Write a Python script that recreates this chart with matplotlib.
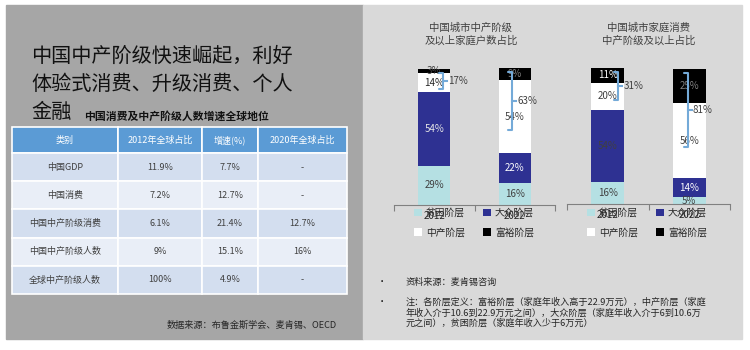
import numpy as np
import matplotlib.pyplot as plt
from matplotlib.patches import Rectangle

plt.rcParams['font.family'] = ['Noto Sans CJK SC', 'DejaVu Sans']

## table data
tbl_header = ['类别', '2012年全球占比', '增速(%)', '2020年全球占比']
tbl_category = ['中国GDP', '中国消费', '中国中产阶级消费', '中国中产阶级人数', '全球中产阶级人数']
tbl_share_2012 = ['11.9%', '7.2%', '6.1%', '9%', '100%']
tbl_growth = ['7.7%', '12.7%', '21.4%', '15.1%', '4.9%']
tbl_share_2020 = ['-', '-', '12.7%', '16%', '-']

## stacked bar data
years = ['2012', '2022']
layers = ['贫困阶层', '大众阶层', '中产阶层', '富裕阶层']
hh_poor = [29, 16]
hh_mass = [54, 22]
hh_middle = [14, 54]
hh_rich = [3, 9]
cons_poor = [16, 5]
cons_mass = [54, 14]
cons_middle = [20, 56]
cons_rich = [11, 25]

title_lines = ['中国中产阶级快速崛起，利好', '体验式消费、升级消费、个人', '金融']
subtitle = '中国消费及中产阶级人数增速全球地位'
source_left = '数据来源：布鲁金斯学会、麦肯锡、OECD'
note_source = '资料来源：麦肯锡咨询'
note_lines = ['注：各阶层定义：富裕阶层（家庭年收入高于22.9万元），中产阶层（家庭',
              '年收入介于10.6到22.9万元之间），大众阶层（家庭年收入介于6到10.6万',
              '元之间），贫困阶层（家庭年收入少于6万元）']

c_poor = '#b5e0e3'
c_mass = '#2e3192'
c_brace = '#74aad8'
W, H = 750, 350

fig = plt.figure(figsize=(7.5, 3.5), dpi=100)
bg = fig.add_axes([0, 0, 1, 1])
bg.set_xlim(0, W)
bg.set_ylim(H, 0)
bg.axis('off')
bg.add_patch(Rectangle((6, 5), 357, 334, color='#a6a6a6', zorder=0))
bg.add_patch(Rectangle((363, 5), 379, 334, color='#d9d9d9', zorder=0))


def px_axes(x0, y0, x1, y1):
  # axes from pixel box (top-left origin)
  return fig.add_axes([x0 / W, 1 - y1 / H, (x1 - x0) / W, (y1 - y0) / H])


## left panel text
for i, line in enumerate(title_lines):
  bg.text(31, 56 + 28 * i, line, fontsize=14.5, va='center', ha='left', color='#111111')
bg.text(84, 116, subtitle, fontsize=7.8, fontweight='bold', va='center', ha='left', color='#111111')
bg.text(337, 325, source_left, fontsize=6.6, va='center', ha='right', color='#262626')

## table
ax_t = px_axes(12, 127, 347, 294)
ax_t.axis('off')
rows = [list(r) for r in zip(tbl_category, tbl_share_2012, tbl_growth, tbl_share_2020)]
col_w = np.array([106, 84, 56, 89]) / 335.0
tab = ax_t.table(cellText=rows, colLabels=tbl_header, cellLoc='center',
                 colWidths=list(col_w), bbox=[0, 0, 1, 1])
tab.auto_set_font_size(False)
tab.set_fontsize(6.5)
for (r, c), cell in tab.get_celld().items():
  cell.set_edgecolor('white')
  cell.set_linewidth(1.2)
  if r == 0:
    cell.set_height(26)
    cell.set_facecolor('#5b9bd5')
    cell.get_text().set_color('white')
  else:
    cell.set_height(28)
    cell.set_facecolor('#d3deef' if r % 2 == 1 else '#e9eef7')
    cell.get_text().set_color('#404040')


def stacked(box, title_x, title, segs, label_colors, brace_dx):
  ax = px_axes(*box)
  ax.set_xlim(-0.5, 1.5)
  ax.set_ylim(0, 100)
  ax.patch.set_alpha(0)
  x = np.arange(len(years))
  bottom = np.zeros(len(years))
  colors = [c_poor, c_mass, 'white', 'black']
  handles = []
  for k, vals in enumerate(segs):
    vals = np.array(vals)
    b = ax.bar(x, vals, 0.4, bottom=bottom, color=colors[k], label=layers[k],
               clip_on=False, zorder=2)
    handles.append(b)
    for i, v in enumerate(vals):
      ax.text(x[i], bottom[i] + v / 2.0, '%d%%' % v, ha='center', va='center',
              fontsize=7, color=label_colors[k][i], zorder=3)
    bottom = bottom + vals
  # braces over middle + rich
  lo_all = np.array(segs[0]) + np.array(segs[1])
  for i in range(len(years)):
    span = bottom[i] - lo_all[i]
    top = bottom[i] - 3
    bot = top - 0.68 * span
    mid = (top + bot) / 2.0
    xc = x[i] + brace_dx[i]
    arm = 0.05
    ax.plot([xc - arm, xc, xc, xc - arm], [top, top, bot, bot], color=c_brace,
            lw=1.5, clip_on=False, zorder=4, solid_capstyle='round')
    ax.plot([xc, xc + arm], [mid, mid], color=c_brace, lw=1.5, clip_on=False, zorder=4)
    ax.text(xc + arm + 0.01, mid, '%d%%' % (segs[2][i] + segs[3][i]), ha='left', va='center',
            fontsize=7, color='#404040', zorder=5)
  for s in ['top', 'left', 'right']:
    ax.spines[s].set_visible(False)
  ax.spines['bottom'].set_color('#808080')
  ax.spines['bottom'].set_linewidth(0.8)
  ax.set_yticks([])
  ax.set_xticks([-0.5, 0.5, 1.5])
  ax.set_xticklabels(['', '', ''])
  ax.tick_params(which='major', length=4, color='#808080', width=0.8)
  ax.set_xticks(x, minor=True)
  ax.set_xticklabels(years, minor=True)
  ax.tick_params(which='minor', length=0, pad=4, labelsize=7, labelcolor='#262626')
  bg.text(title_x, 34, title, ha='center', va='center', fontsize=7.5, linespacing=1.35,
          color='#404040')
  leg = ax.legend([handles[0], handles[2], handles[1], handles[3]],
                  [layers[0], layers[2], layers[1], layers[3]], ncol=2, loc='upper left',
                  bbox_to_anchor=(box[0] + 20, 208), bbox_transform=bg.transData,
                  frameon=False, fontsize=7, borderpad=0, borderaxespad=0,
                  handlelength=0.8, handleheight=0.8, handletextpad=0.4,
                  columnspacing=1.9, labelspacing=0.95)
  for t in leg.get_texts():
    t.set_color('#262626')
  return ax


stacked((394, 69, 555, 205), 471, '中国城市中产阶级\n及以上家庭户数占比',
        [hh_poor, hh_mass, hh_middle, hh_rich],
        [['#404040', '#404040'], ['#e6e6e6', 'white'], ['#262626', '#404040'], ['#404040', '#808080']],
        [0.11, -0.03])
stacked((567, 69, 730, 204), 649, '中国城市家庭消费\n中产阶级及以上占比',
        [cons_poor, cons_mass, cons_middle, cons_rich],
        [['#404040', '#404040'], ['#404040', 'white'], ['#404040', '#404040'], ['white', '#808080']],
        [0.13, -0.02])

## notes
bg.text(382, 282, '•', fontsize=6, ha='center', va='center', color='black')
bg.text(382, 302, '•', fontsize=6, ha='center', va='center', color='black')
bg.text(406, 282, note_source, fontsize=6.6, ha='left', va='center', color='#262626')
for i, line in enumerate(note_lines):
  bg.text(406, 302 + 10.7 * i, line, fontsize=6.6, ha='left', va='center', color='#262626')

fig.savefig('out.png', dpi=100)
